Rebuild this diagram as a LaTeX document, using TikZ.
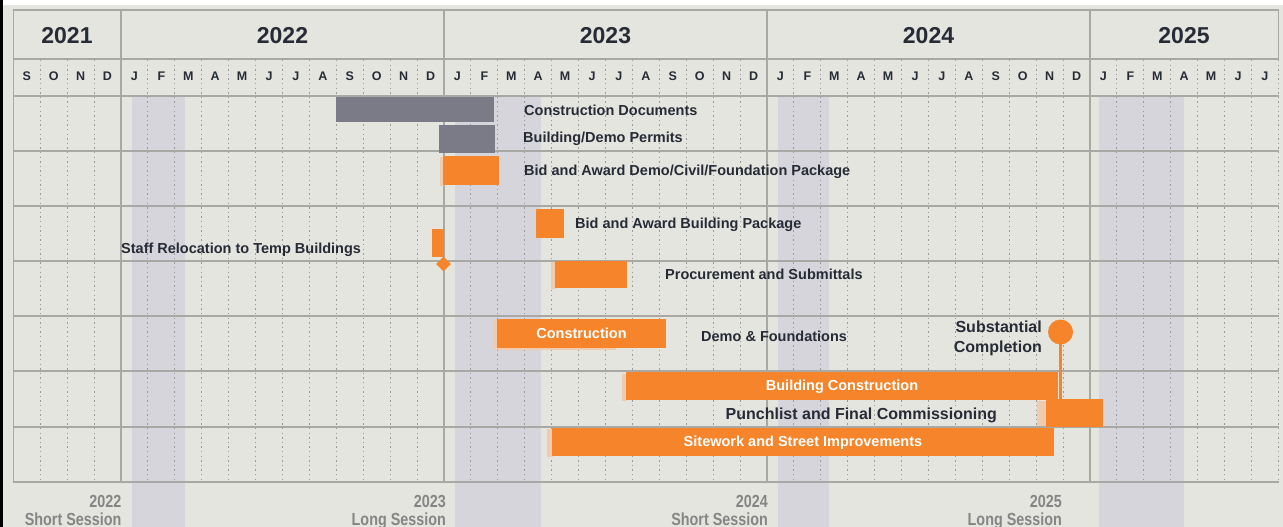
\documentclass[tikz,border=0pt]{standalone}
\usepackage{fontspec}
\setmainfont{Liberation Sans}
\usetikzlibrary{shapes.geometric}
\definecolor{bgc}{HTML}{E5E5E0}
\definecolor{sess}{HTML}{D5D5DB}
\definecolor{gridc}{HTML}{A8A8A4}
\definecolor{dotc}{HTML}{9A9A98}
\definecolor{greybar}{HTML}{7B7B87}
\definecolor{orng}{HTML}{F5842A}
\definecolor{peach}{HTML}{F0CBAE}
\definecolor{ink}{HTML}{262B36}
\definecolor{sessink}{HTML}{858585}
\tikzset{
  hline/.style={draw=gridc, line width=1.6pt},
  vline/.style={draw=gridc, line width=1.6pt},
  dline/.style={draw=dotc, line width=0.9pt, dash pattern=on 1.4pt off 3.2pt},
  yearlbl/.style={font=\fontsize{23}{23}\selectfont\bfseries, text=ink, inner sep=0pt, text height=16.5pt, text depth=0pt},
  monlbl/.style={font=\fontsize{12.5}{12.5}\selectfont\bfseries, text=ink, inner sep=0pt, text height=9pt, text depth=0pt},
  lbl/.style={font=\fontsize{14.5}{14.5}\selectfont\bfseries, text=ink, inner sep=0pt, text height=10.4pt, text depth=0pt, anchor=west},
  biglbl/.style={font=\fontsize{16}{16}\selectfont\bfseries, text=ink, inner sep=0pt, text height=11.5pt, text depth=0pt},
  gbar/.style={fill=greybar, inner sep=0pt, outer sep=0pt, anchor=north west},
  obar/.style={fill=orng, inner sep=0pt, outer sep=0pt, anchor=north west},
  wbar/.style={obar, font=\fontsize{14.5}{14.5}\selectfont\bfseries, text=white, text height=10.4pt, text depth=0pt},
  sesslbl/.style={font=\fontsize{17.5}{17.5}\selectfont\bfseries, text=sessink, inner sep=0pt, anchor=base east},
}
\begin{document}
\begin{tikzpicture}[x=1pt,y=-1pt]
\useasboundingbox (0,0) rectangle (1283,527);
\fill[white] (0,0) rectangle (1283,527);
\fill[bgc] (3,5) rectangle (1283,527);
\fill[black] (0,0) rectangle (3,527);
% session shading
\fill[sess] (132,96) rectangle (185,527);
\fill[sess] (455,96) rectangle (541,527);
\fill[sess] (778,96) rectangle (829,527);
\fill[sess] (1099,96) rectangle (1184,527);
% dotted month lines
\foreach \i in {1,...,47} {
  \draw[dline] ({13.3+26.917*\i},60) -- ({13.3+26.917*\i},481);
}
% horizontal lines
\foreach \yy in {10,59,96,151,206,261,316,371,427,482} {
  \draw[hline] (12.5,\yy) -- (1279,\yy);
}
% solid vertical lines
\foreach \xx in {13.3,121,444,767,1090} {
  \draw[vline] (\xx,10) -- (\xx,482);
}
\draw[vline] (1278.4,10) -- (1278.4,59);
% years
\node[yearlbl] (y21) at (67,35) {2021};
\node[yearlbl] (y22) at (282.5,35) {2022};
\node[yearlbl] (y23) at (605.5,35) {2023};
\node[yearlbl] (y24) at (928.5,35) {2024};
\node[yearlbl] (y25) at (1184,35) {2025};
% months
\foreach \l [count=\i from 0] in {S,O,N,D,J,F,M,A,M,J,J,A,S,O,N,D,J,F,M,A,M,J,J,A,S,O,N,D,J,F,M,A,M,J,J,A,S,O,N,D,J,F,M,A,M,J,J} {
  \node[monlbl] (m\i) at ({13.3+26.917*(\i+0.5)},76.5) {\l};
}
% shadows
\fill[peach] (440,157) rectangle (444,186);
\fill[peach] (551,262) rectangle (556,289);
\fill[peach] (494,320) rectangle (498,349);
\fill[peach] (494,346) rectangle (616,350);
\fill[peach] (622,374) rectangle (627,401);
\fill[peach] (1037,401) rectangle (1046,426);
\fill[peach] (547,429) rectangle (553,457);
% bars
\node[gbar, minimum width=158, minimum height=25] (cd) at (336,97) {};
\node[lbl] (cdl) at (524,110) {Construction Documents};
\node[gbar, minimum width=55.5, minimum height=27.5] (bp) at (439,125) {};
\node[lbl] (bpl) at (523,137.5) {Building/Demo Permits};
\node[obar, minimum width=56, minimum height=29] (bd) at (443,156) {};
\node[lbl] (bdl) at (524,170.5) {Bid and Award Demo/Civil/Foundation Package};
\node[obar, minimum width=28, minimum height=28.5] (bb) at (536,209) {};
\node[lbl] (bbl) at (575,223.5) {Bid and Award Building Package};
\node[obar, minimum width=11.5, minimum height=28] (sr) at (432.2,229) {};
\node[diamond, fill=orng, inner sep=0pt, minimum width=15, minimum height=15] (srd) at (443.5,264) {};
\node[lbl] (srl) at (121,248.5) {Staff Relocation to Temp Buildings};
\node[obar, minimum width=72, minimum height=27] (pr) at (555,261) {};
\node[lbl] (prl) at (665,274.5) {Procurement and Submittals};
\node[wbar, minimum width=169, minimum height=28.5] (cn) at (497,319.3) {Construction};
\node[lbl] (cnl) at (701,336.5) {Demo \& Foundations};
\node[wbar, minimum width=432, minimum height=28.5] (bc) at (626,371.5) {Building Construction};
\node[wbar, minimum width=502, minimum height=28.5] (sw) at (552,427.5) {Sitework and Street Improvements};
\node[obar, minimum width=57, minimum height=27.5] (pl) at (1046,399) {};
\node[biglbl, anchor=east] (pll) at (997,414) {Punchlist and Final Commissioning};
\node[circle, fill=orng, inner sep=0pt, minimum size=25] (sc) at (1060.5,332) {};
\draw[orng, line width=3.5pt] (sc.center) -- (sc.center |- pl.north);
\node[biglbl, anchor=east] (scl1) at (1042,326.5) {Substantial};
\node[biglbl, anchor=east] (scl2) at (1042,346.5) {Completion};
% session labels
\node[sesslbl] (s22a) at (121.5,507) {\scalebox{0.82}[1]{2022}};
\node[sesslbl] (s22b) at (121.5,525) {\scalebox{0.82}[1]{Short Session}};
\node[sesslbl] (s23a) at (446,507) {\scalebox{0.82}[1]{2023}};
\node[sesslbl] (s23b) at (446,525) {\scalebox{0.82}[1]{Long Session}};
\node[sesslbl] (s24a) at (768,507) {\scalebox{0.82}[1]{2024}};
\node[sesslbl] (s24b) at (768,525) {\scalebox{0.82}[1]{Short Session}};
\node[sesslbl] (s25a) at (1062,507) {\scalebox{0.82}[1]{2025}};
\node[sesslbl] (s25b) at (1062,525) {\scalebox{0.82}[1]{Long Session}};
\end{tikzpicture}
\end{document}
